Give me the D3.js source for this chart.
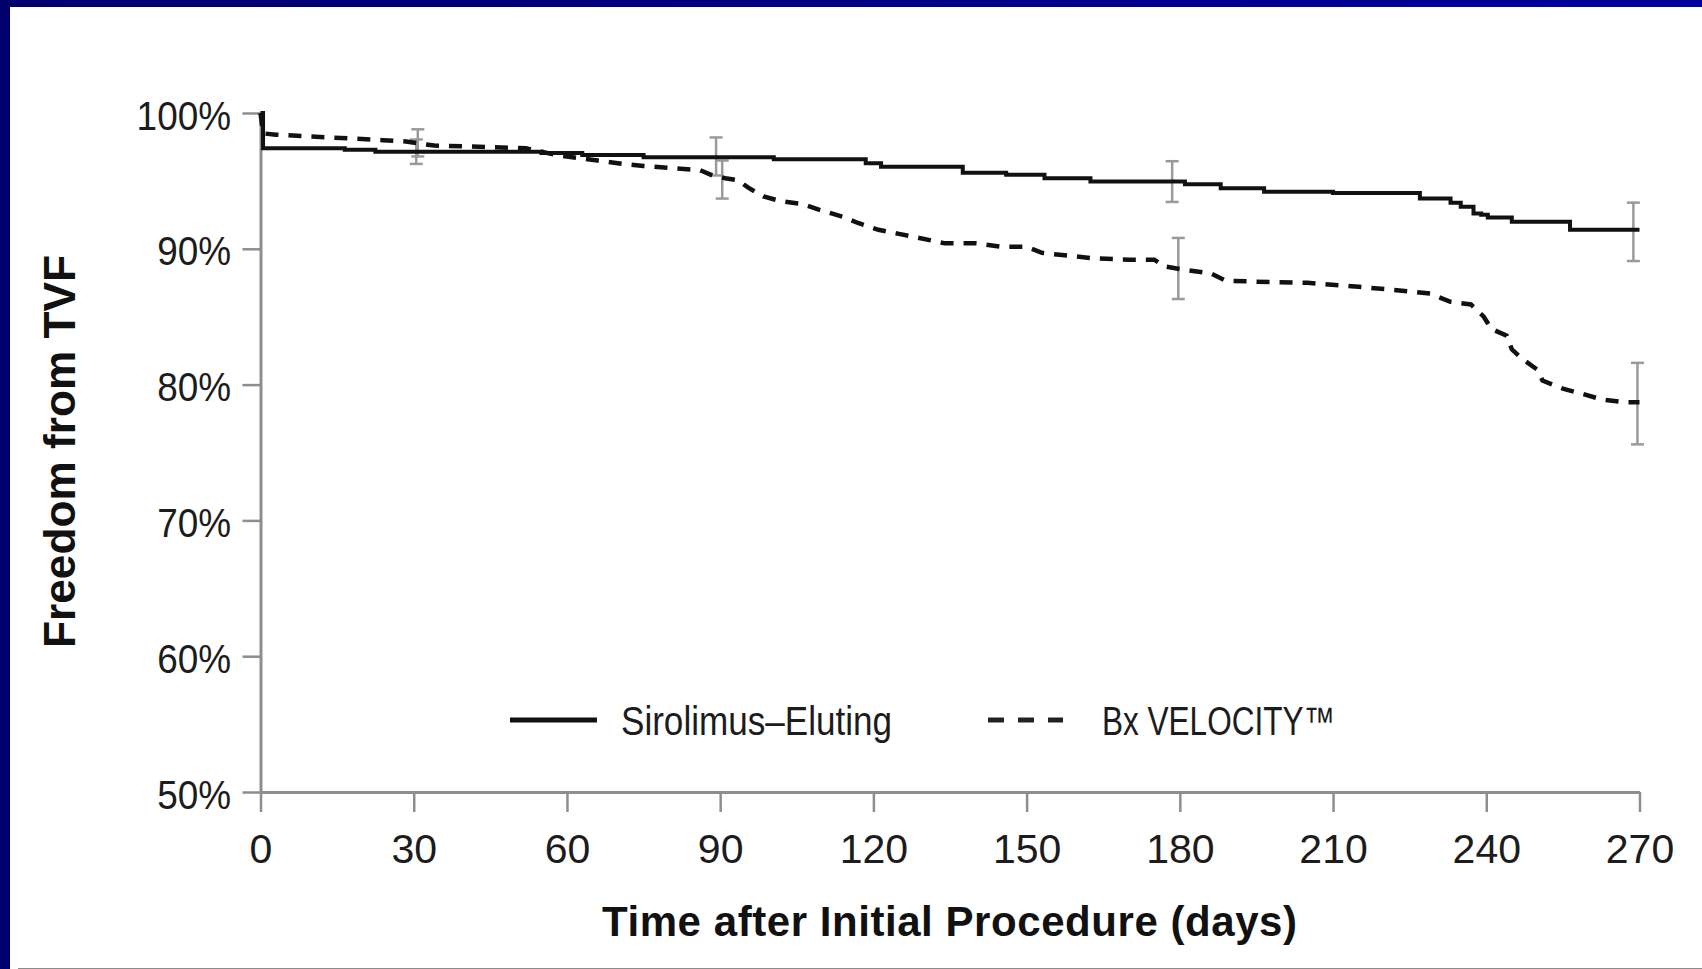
<!DOCTYPE html>
<html>
<head>
<meta charset="utf-8">
<script src="https://cdn.jsdelivr.net/npm/d3@7"></script>
<style>
  html, body { margin: 0; padding: 0; background: #ffffff; }
  svg { display: block; }
  text { font-family: "Liberation Sans", Arial, sans-serif; }
</style>
</head>
<body>
<svg id="chart" width="1702" height="969"></svg>
<script>
// ---------------- data ----------------
const xTickValues = [0, 30, 60, 90, 120, 150, 180, 210, 240, 270];
const yTickValues = [50, 60, 70, 80, 90, 100];

const seriesNames = ["Sirolimus\u2013Eluting", "Bx VELOCITY\u2122"];

// Sirolimus-Eluting (Kaplan-Meier steps)
const sirolimusDays = [0, 0.5, 16.5, 22.5, 55, 63, 75, 100.5, 118.5, 121.5,
  137.5, 146, 153.5, 162.5, 181, 188, 196.5, 210, 227, 233,
  235, 237.5, 239, 240.3, 245, 256.4, 270];
const sirolimusFreedom = [100, 97.4, 97.3, 97.15, 97.05, 96.9, 96.75, 96.6, 96.3, 96.05,
  95.6, 95.45, 95.2, 94.95, 94.75, 94.45, 94.2, 94.1, 93.7, 93.4,
  93.1, 92.6, 92.5, 92.3, 92.0, 91.4, 91.4];

// Bx VELOCITY
const velocityDays = [0, 0.5, 3, 24, 28.5, 34, 44, 52, 58, 62,
  66, 71, 75, 80, 86, 88.5, 91, 93.5, 95.5, 98.5,
  102, 106, 110, 114, 117, 121, 125, 129, 134, 140,
  145, 150, 153, 158, 163, 170, 175, 177, 181, 186,
  189, 195, 205, 215, 224, 229, 233, 237, 239.5, 241,
  244, 245, 247, 250, 251, 255, 259, 262.7, 267, 270];
const velocityFreedom = [100, 98.5, 98.4, 98.0, 97.9, 97.6, 97.5, 97.4, 96.9, 96.7,
  96.5, 96.25, 96.1, 95.95, 95.8, 95.4, 95.2, 95.05, 94.5, 93.85,
  93.5, 93.3, 92.8, 92.36, 91.9, 91.4, 91.1, 90.8, 90.4, 90.4,
  90.15, 90.15, 89.7, 89.5, 89.3, 89.2, 89.2, 88.7, 88.45, 88.2,
  87.65, 87.58, 87.5, 87.2, 86.9, 86.7, 86.1, 85.9, 85.0, 84.1,
  83.6, 82.6, 81.9, 81.1, 80.3, 79.7, 79.3, 78.9, 78.7, 78.7];

// error bars (day, centre, half-width)
const sirolimusErrDays = [30.5, 89.2, 178.5, 268.8];
const sirolimusErrMid = [97.15, 96.8, 94.95, 91.25];
const sirolimusErrHalf = [0.9, 1.4, 1.5, 2.15];
const velocityErrDays = [30.8, 90.4, 179.7, 269.6];
const velocityErrMid = [97.8, 95.1, 88.55, 78.6];
const velocityErrHalf = [1.0, 1.4, 2.25, 3.0];

// ---------------- drawing ----------------
const svg = d3.select("#chart");
const W = 1702, H = 969;

// frame
const defs = svg.append("defs");
const grad = defs.append("linearGradient").attr("id", "topband")
  .attr("x1", "0").attr("x2", "1").attr("y1", "0").attr("y2", "0");
grad.append("stop").attr("offset", "0").attr("stop-color", "#00006c");
grad.append("stop").attr("offset", "1").attr("stop-color", "#00009e");
svg.append("rect").attr("x", 0).attr("y", 0).attr("width", W).attr("height", 7).attr("fill", "url(#topband)");
svg.append("rect").attr("x", 0).attr("y", 0).attr("width", 10).attr("height", H).attr("fill", "#00006c");
svg.append("line").attr("x1", 18).attr("x2", W).attr("y1", 968.5).attr("y2", 968.5)
  .attr("stroke", "#8a8a8a").attr("stroke-width", 1);

const x = d3.scaleLinear().domain([0, 270]).range([260.5, 1639.5]);
const y = d3.scaleLinear().domain([50, 100]).range([792, 113]);

const axisColor = "#8e8e8e";
const textColor = "#1c1c1c";

// x axis
const gx = svg.append("g").attr("transform", `translate(0,${y(50)})`)
  .call(d3.axisBottom(x).tickValues(xTickValues).tickSize(20).tickSizeOuter(0).tickFormat(d => String(d)));
gx.select(".domain").attr("stroke", axisColor).attr("stroke-width", 3);
gx.selectAll(".tick line").attr("stroke", axisColor).attr("stroke-width", 2.5);
gx.selectAll(".tick text").attr("y", 71).attr("dy", 0)
  .attr("font-size", 41).attr("fill", textColor)
  .style("font-family", '"Liberation Sans", Arial, sans-serif');

// y axis
const gy = svg.append("g").attr("transform", `translate(${x(0)},0)`)
  .call(d3.axisLeft(y).tickValues(yTickValues).tickSize(18).tickSizeOuter(0).tickFormat(d => d + "%"));
gy.select(".domain").attr("stroke", axisColor).attr("stroke-width", 3);
gy.selectAll(".tick line").attr("stroke", axisColor).attr("stroke-width", 2.5);
gy.selectAll(".tick text").attr("x", -29.5).attr("dy", 0).attr("y", 16)
  .attr("font-size", 41).attr("fill", textColor)
  .style("font-family", '"Liberation Sans", Arial, sans-serif')
  .each(function () {
    const L = this.getComputedTextLength();
    d3.select(this).attr("textLength", L * 0.9).attr("lengthAdjust", "spacingAndGlyphs");
  });

// axis titles
svg.append("text")
  .attr("transform", `translate(75,451.5) rotate(-90)`)
  .attr("text-anchor", "middle")
  .attr("font-size", 44).attr("font-weight", "bold").attr("fill", "#111")
  .attr("textLength", 393).attr("lengthAdjust", "spacingAndGlyphs")
  .text("Freedom from TVF");

svg.append("text")
  .attr("x", 602).attr("y", 936)
  .attr("font-size", 42).attr("font-weight", "bold").attr("fill", "#111")
  .attr("textLength", 695).attr("lengthAdjust", "spacing")
  .text("Time after Initial Procedure (days)");

// series lines
const sirolimusData = sirolimusDays.map((d, i) => [d, sirolimusFreedom[i]]);
const velocityData = velocityDays.map((d, i) => [d, velocityFreedom[i]]);

const stepLine = d3.line().x(d => x(d[0])).y(d => y(d[1])).curve(d3.curveStepAfter);
const linLine = d3.line().x(d => x(d[0])).y(d => y(d[1])).curve(d3.curveLinear);

// error bars
function drawErr(days, mid, half) {
  const g = svg.append("g").attr("stroke", "#9a9a9a").attr("stroke-width", 2.5).attr("fill", "none");
  days.forEach((d, i) => {
    const cx = x(d), y1 = y(mid[i] + half[i]), y2 = y(mid[i] - half[i]);
    g.append("line").attr("x1", cx).attr("x2", cx).attr("y1", y1).attr("y2", y2);
    g.append("line").attr("x1", cx - 6.5).attr("x2", cx + 6.5).attr("y1", y1).attr("y2", y1);
    g.append("line").attr("x1", cx - 6.5).attr("x2", cx + 6.5).attr("y1", y2).attr("y2", y2);
  });
}
drawErr(sirolimusErrDays, sirolimusErrMid, sirolimusErrHalf);
drawErr(velocityErrDays, velocityErrMid, velocityErrHalf);

svg.append("path").datum(velocityData)
  .attr("d", linLine).attr("fill", "none").attr("stroke", "#111")
  .attr("stroke-width", 4.5).attr("stroke-dasharray", "13,10");

svg.append("path").datum(sirolimusData)
  .attr("d", stepLine).attr("fill", "none").attr("stroke", "#111")
  .attr("stroke-width", 4);

// legend
const leg = svg.append("g");
leg.append("line").attr("x1", 510).attr("x2", 597).attr("y1", 720).attr("y2", 720)
  .attr("stroke", "#111").attr("stroke-width", 5);
leg.append("text").attr("x", 621).attr("y", 735)
  .attr("font-size", 40).attr("fill", textColor)
  .attr("textLength", 271).attr("lengthAdjust", "spacingAndGlyphs")
  .text(seriesNames[0]);
leg.append("line").attr("x1", 988).attr("x2", 1063).attr("y1", 720).attr("y2", 720)
  .attr("stroke", "#222").attr("stroke-width", 5).attr("stroke-dasharray", "16,14");
leg.append("text").attr("x", 1102).attr("y", 735)
  .attr("font-size", 40).attr("fill", textColor)
  .attr("textLength", 233).attr("lengthAdjust", "spacingAndGlyphs")
  .text(seriesNames[1]);
</script>
</body>
</html>
